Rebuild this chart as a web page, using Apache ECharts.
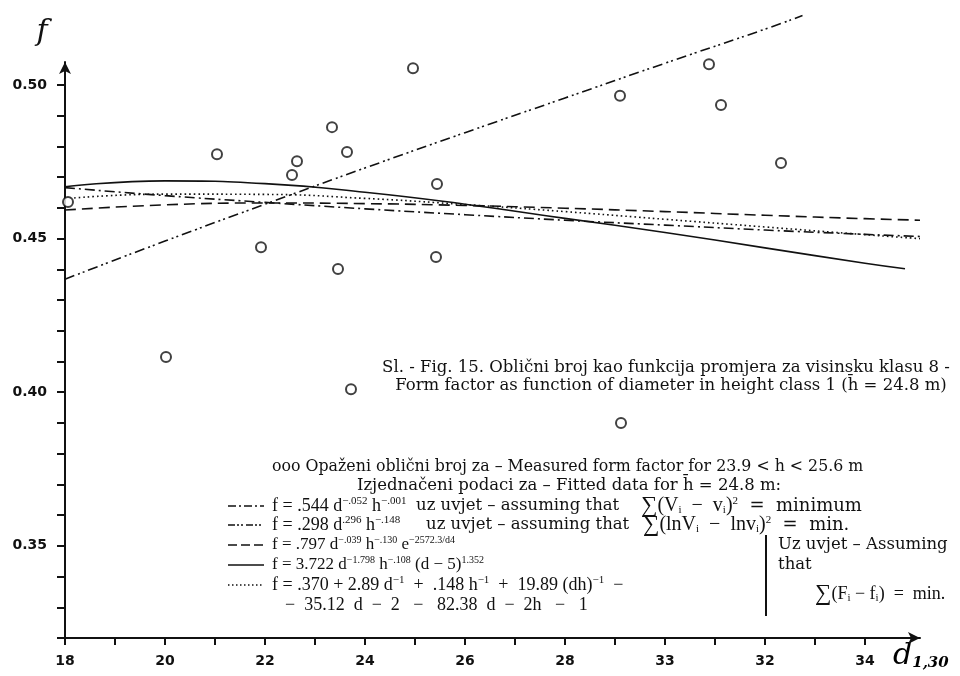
<!DOCTYPE html>
<html><head><meta charset="utf-8">
<script src="https://cdn.jsdelivr.net/npm/echarts@6/dist/echarts.min.js"></script>
<style>html,body{margin:0;padding:0;background:#fff}#c{width:960px;height:676px}</style>
</head><body><div id="c"></div>
<script>
// ---- data ----
const xTickValues = [18,19,20,21,22,23,24,25,26,27,28,29,30,31,32,33,34];
const xLabelValues = [18,20,22,24,26,28,30,32,34];
const xTickLabels = ['18','20','22','24','26','28','33','32','34'];
const yTickValues = [0.32,0.33,0.34,0.35,0.36,0.37,0.38,0.39,0.40,0.41,0.42,0.43,0.44,0.45,0.46,0.47,0.48,0.49,0.50];
const yLabelValues = [0.35,0.40,0.45,0.50];
const yTickLabels = ['0.35','0.40','0.45','0.50'];

// measured form factor (circles)
const obsD = [18.06,20.02,21.04,21.92,22.54,22.64,23.34,23.46,23.64,23.72,24.96,25.44,25.42,29.10,29.12,30.88,31.12,32.32];
const obsF = [0.4619,0.4115,0.4775,0.4472,0.4707,0.4752,0.4863,0.4401,0.4782,0.4010,0.5055,0.4678,0.4440,0.4965,0.3900,0.5068,0.4935,0.4746];

// fitted curves
const dashDotD = [18,20,22,24,26,28,30,32,34,35.1];
const dashDotF = [0.4666,0.4640,0.4618,0.4597,0.4578,0.4560,0.4544,0.4528,0.4514,0.4507];
const dashDotDotD = [18,20,22,24,26,28,30,32,32.75];
const dashDotDotF = [0.4368,0.4492,0.4612,0.4730,0.4845,0.4958,0.5071,0.5182,0.5226];
const dashedD = [18,20,22,24,26,28,30,32,34,35.1];
const dashedF = [0.4593,0.4610,0.4616,0.4614,0.4608,0.4599,0.4588,0.4576,0.4565,0.4560];
const solidD = [18,20,22,24,26,28,30,32,34,34.8];
const solidF = [0.4669,0.4688,0.4679,0.4651,0.4612,0.4566,0.4520,0.4470,0.4420,0.4402];
const dottedD = [18,20,22,24,26,28,30,32,34,35.1];
const dottedF = [0.4630,0.4645,0.4644,0.4631,0.4611,0.4588,0.4563,0.4538,0.4513,0.4500];

const zip = (a, b) => a.map((v, i) => [v, b[i]]);
const INK = '#111';
const WSERIF = '"DejaVu Serif","Liberation Serif",serif';
const FSERIF = '"Liberation Serif","DejaVu Serif",serif';
const TICKF = '"DejaVu Sans",sans-serif';

function curve(d, f, dash) {
  return { type: 'line', data: zip(d, f), showSymbol: false, smooth: true, clip: false, silent: true,
    lineStyle: { color: INK, width: 1.6, type: dash } };
}

const rich = {
  w: { fontFamily: WSERIF, fontSize: 18, color: INK, lineHeight: 20 },
  n: { fontFamily: FSERIF, fontSize: 18, color: INK, lineHeight: 20 },
  L: { fontFamily: FSERIF, fontSize: 20, color: INK, lineHeight: 20 },
  m: { fontFamily: FSERIF, fontSize: 17, color: INK, lineHeight: 20 },
  g: { fontFamily: FSERIF, fontSize: 23, color: INK, lineHeight: 20 },
  s: { fontFamily: FSERIF, fontSize: 11, color: INK, lineHeight: 8, verticalAlign: 'top' },
  t: { fontFamily: FSERIF, fontSize: 10, color: INK, lineHeight: 8, verticalAlign: 'top' },
  b: { fontFamily: FSERIF, fontSize: 11, color: INK, lineHeight: 10, verticalAlign: 'bottom' },
  d: { fontFamily: WSERIF, fontSize: 30, fontStyle: 'italic', color: INK, lineHeight: 30 },
  ds: { fontFamily: WSERIF, fontSize: 15, fontStyle: 'italic', fontWeight: 'bold', color: INK, lineHeight: 14, verticalAlign: 'bottom' }
};
function txt(x, y, text, align, size) {
  return { type: 'text', x: x, y: y, silent: true,
    style: { text: text, rich: rich, font: (size || 16.5) + 'px ' + WSERIF, fill: INK, align: align || 'left', verticalAlign: 'middle' } };
}
function sample(y, dash) {
  return { type: 'line', silent: true, shape: { x1: 228, y1: y, x2: 264, y2: y },
    style: { stroke: INK, lineWidth: 1.6, lineDash: dash } };
}

const chart = echarts.init(document.getElementById('c'));
chart.setOption({
  animation: false,
  backgroundColor: '#fff',
  grid: { left: 65, right: 40, top: 62, bottom: 38 },
  xAxis: {
    type: 'value', min: 18, max: 35.1,
    axisLine: { lineStyle: { color: INK, width: 2 }, symbol: ['none', 'arrow'], symbolSize: [9, 12] },
    axisTick: { customValues: xTickValues, length: 7, lineStyle: { color: INK, width: 2 } },
    axisLabel: { customValues: xLabelValues, margin: 16, color: INK, fontFamily: TICKF, fontSize: 14, fontWeight: 'bold',
      formatter: v => xTickLabels[xLabelValues.indexOf(Math.round(v))] },
    splitLine: { show: false }
  },
  yAxis: {
    type: 'value', min: 0.32, max: 0.5075,
    axisLine: { lineStyle: { color: INK, width: 2 }, symbol: ['none', 'arrow'], symbolSize: [9, 12] },
    axisTick: { customValues: yTickValues, length: 8, lineStyle: { color: INK, width: 2 } },
    axisLabel: { customValues: yLabelValues, margin: 18, color: INK, fontFamily: TICKF, fontSize: 14, fontWeight: 'bold',
      formatter: v => yTickLabels[yLabelValues.findIndex(t => Math.abs(t - v) < 1e-6)] },
    splitLine: { show: false }
  },
  series: [
    curve(dashDotD, dashDotF, [10, 4, 2, 4]),
    curve(dashDotDotD, dashDotDotF, [10, 4, 2, 3, 2, 4]),
    curve(dashedD, dashedF, [11, 6]),
    curve(solidD, solidF, 'solid'),
    curve(dottedD, dottedF, [1.6, 3]),
    { type: 'scatter', data: zip(obsD, obsF), symbol: 'circle', symbolSize: 10, z: 5, silent: true,
      itemStyle: { color: '#fff', borderColor: INK, borderWidth: 2 } }
  ],
  graphic: [
    { type: 'text', x: 42, y: 32, silent: true, style: { text: 'f', font: 'italic 30px ' + WSERIF, fill: INK, align: 'center', verticalAlign: 'middle' } },
    { type: 'text', x: 893, y: 656, silent: true, style: { text: '{d|d}{ds|1,30}', rich: rich, align: 'left', verticalAlign: 'middle' } },
    txt(666, 368, 'Sl. - Fig. 15. Oblični broj kao funkcija promjera za visinsku klasu 8 -', 'center'),
    txt(671, 386, 'Form factor as function of diameter in height class 1 (h̄ = 24.8 m)', 'center'),
    txt(272, 467, 'ooo Opaženi oblični broj za – Measured form factor for 23.9 < h < 25.6 m', 'left', 15.8),
    txt(569, 486, 'Izjednačeni podaci za – Fitted data for h̄ = 24.8 m:', 'center'),
    sample(506, [8, 3, 2, 3]),
    txt(272, 506, '{n|f = .544 d}{s|−.052}{n| h}{s|−.001}'),
    txt(416, 506, 'uz uvjet – assuming that'),
    txt(641, 506, '{g|∑}{L|(V}{b|i}{L|  −  v}{b|i}{L|)}{s|2}{w|  =  minimum}'),
    sample(525, [7, 2, 2, 2, 2, 3]),
    txt(272, 525, '{n|f = .298 d}{s|.296}{n| h}{s|−.148}'),
    txt(426, 525, 'uz uvjet – assuming that'),
    txt(643, 525, '{g|∑}{L|(lnV}{b|i}{L|  −  lnv}{b|i}{L|)}{s|2}{w|  =  min.}'),
    sample(545, [9, 4]),
    txt(272, 545, '{m|f = .797 d}{t|−.039}{m| h}{t|−.130}{m| e}{t|−2572.3/d4}'),
    sample(565, null),
    txt(272, 565, '{m|f = 3.722 d}{t|−1.798}{m| h}{t|−.108}{m| (d − 5)}{t|1.352}'),
    sample(585, [1.5, 2.5]),
    txt(272, 585, '{n|f = .370 + 2.89 d}{s|−1}{n|  +  .148 h}{s|−1}{n|  +  19.89 (dh)}{s|−1}{n|  −}'),
    txt(285, 605, '{n|−  35.12  d  −  2   −   82.38  d  −  2h   −   1}'),
    { type: 'line', silent: true, shape: { x1: 766, y1: 535, x2: 766, y2: 616 }, style: { stroke: INK, lineWidth: 2 } },
    txt(778, 545, 'Uz uvjet – Assuming'),
    txt(778, 565, 'that'),
    txt(815, 594, '{g|∑}{n|(F}{b|i}{n| − f}{b|i}{n|)  =  min.}')
  ]
});
</script></body></html>
